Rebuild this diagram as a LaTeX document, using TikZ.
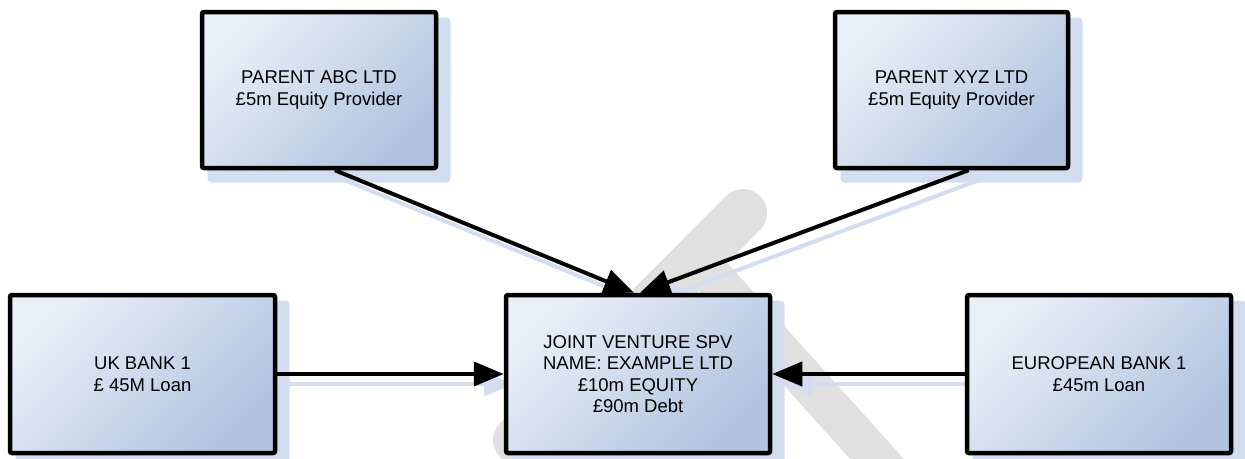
\documentclass[tikz,border=0pt]{standalone}
\usepackage{fontspec}
\setmainfont{Liberation Sans}
\usetikzlibrary{arrows.meta}
\pgfdeclarelayer{wm}
\pgfdeclarelayer{shadow}
\pgfsetlayers{wm,shadow,main}
\definecolor{boxlight}{RGB}{234,239,248}
\definecolor{boxdark}{RGB}{176,195,223}
\definecolor{shadowblue}{RGB}{210,222,240}
\definecolor{wmgray}{RGB}{224,224,224}
\tikzset{
  entity/.style={draw=black, line width=4.5pt, rounded corners=2pt,
    top color=boxlight, bottom color=boxdark, shading angle=45,
    align=center, font=\fontsize{18.5}{21.5}\selectfont, inner sep=0pt},
  link/.style={draw=black, line width=4pt, -{Triangle[length=30pt,width=24pt]}},
  shadowlink/.style={draw=shadowblue, line width=4pt, -{Triangle[length=30pt,width=24pt]}},
  boxshadow/.style={fill=shadowblue, draw=shadowblue, line width=4.5pt, rounded corners=2pt},
  watermark/.style={draw=wmgray, line cap=round},
}
\begin{document}
\begin{tikzpicture}[x=1pt, y=-1pt]
\useasboundingbox (0,0) rectangle (1245,458);
\clip (0,0) rectangle (1245,458);

% watermark
\begin{pgfonlayer}{wm}
  \draw[watermark, line width=48pt] (743,213) -- (517,440);
  \draw[watermark, line width=40pt] (705,268) -- (905,490);
\end{pgfonlayer}

% boxes
\node[entity, minimum width=234pt, minimum height=156pt] (abc) at (319,90)
  {PARENT ABC LTD\\£5m Equity Provider};
\node[entity, minimum width=233pt, minimum height=156pt] (xyz) at (951.5,90)
  {PARENT XYZ LTD\\£5m Equity Provider};
\node[entity, minimum width=265pt, minimum height=158pt] (uk) at (142.5,374)
  {UK BANK 1\\£ 45M Loan};
\node[entity, minimum width=264pt, minimum height=158pt] (jv) at (638,374)
  {JOINT VENTURE SPV\\NAME: EXAMPLE LTD\\£10m EQUITY\\£90m Debt};
\node[entity, minimum width=264pt, minimum height=158pt] (eu) at (1099,374)
  {EUROPEAN BANK 1\\£45m Loan};

% connectors
\draw[link] ([xshift=16pt]abc.south) -- ([xshift=-4pt]jv.north);
\draw[link] ([xshift=17pt]xyz.south) -- ([xshift=2pt]jv.north);
\draw[link] (uk.east) -- (jv.west);
\draw[link] (eu.west) -- (jv.east);

% shadows
\begin{pgfonlayer}{shadow}
\begin{scope}[transform canvas={shift={(10pt,-10pt)}}]
  \foreach \n in {abc,xyz,uk,jv,eu}
    \draw[boxshadow] (\n.south west) rectangle (\n.north east);
  \draw[shadowlink] ([xshift=16pt]abc.south) -- ([xshift=-4pt]jv.north);
  \draw[shadowlink] ([xshift=17pt]xyz.south) -- ([xshift=2pt]jv.north);
  \draw[shadowlink] (uk.east) -- (jv.west);
  \draw[shadowlink] (eu.west) -- (jv.east);
\end{scope}
\end{pgfonlayer}
\end{tikzpicture}
\end{document}
